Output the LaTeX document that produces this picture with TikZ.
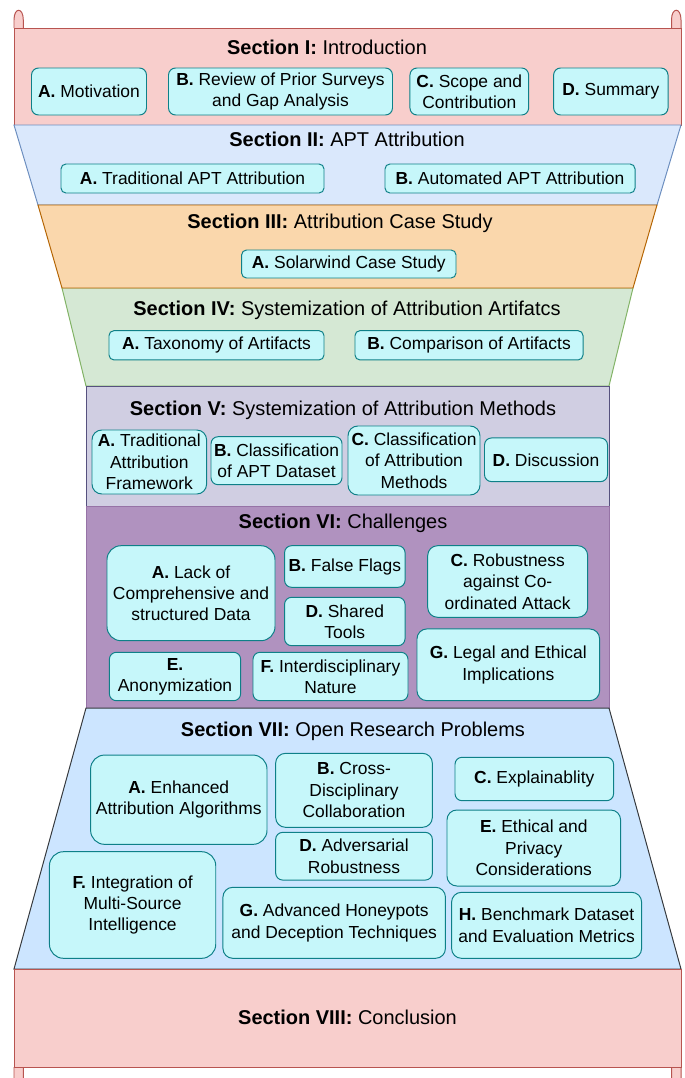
\documentclass[tikz,border=0pt]{standalone}
\usepackage{fontspec}
\setmainfont{Liberation Sans}
\usepackage{tikz}
\newlength{\pxlen}
\setlength{\pxlen}{0.025cm}

\definecolor{introfill}{HTML}{F8CECC}
\definecolor{introline}{HTML}{B85450}
\definecolor{aptfill}{HTML}{DAE8FC}
\definecolor{aptline}{HTML}{6C8EBF}
\definecolor{casefill}{HTML}{FAD7AC}
\definecolor{caseline}{HTML}{B46504}
\definecolor{artifill}{HTML}{D5E8D4}
\definecolor{artiline}{HTML}{82B366}
\definecolor{methfill}{HTML}{D0CEE2}
\definecolor{methline}{HTML}{56517E}
\definecolor{chalfill}{HTML}{B092BF}
\definecolor{challine}{HTML}{9673A6}
\definecolor{openfill}{HTML}{CCE5FF}
\definecolor{openline}{HTML}{36393D}
\definecolor{topicfill}{HTML}{C6F7FA}
\definecolor{topicline}{HTML}{0E8088}

\begin{document}
\begin{tikzpicture}[x=0.025cm, y=-0.025cm]
        \tikzstyle{band}=[line width=0.7pt]
        \tikzstyle{title}=[inner sep=0pt, anchor=base, font=\fontsize{14.2}{17}\selectfont]
        \tikzstyle{topic}=[draw=topicline, fill=topicfill, line width=0.7pt, rounded corners=5pt, inner sep=0pt, align=center, font=\fontsize{12.4}{15.2}\selectfont]
        \tikzstyle{flat}=[rounded corners=3.5pt]
        \tikzstyle{tall}=[rounded corners=7pt]
        \tikzstyle{big}=[rounded corners=10pt]
        \useasboundingbox (0,0) rectangle (684,1078);

        % scroll ends
        \draw [style=band, draw=introline, fill=introfill] (14,28) -- (14,20) .. controls (14,7) and (23.3,7) .. (23.3,20) -- (23.3,28);
        \draw [style=band, draw=introline, fill=introfill] (671.5,28) -- (671.5,20) .. controls (671.5,7) and (681,7) .. (681,20) -- (681,28);
        \draw [style=band, draw=introline, fill=introfill] (14,1067) -- (14,1080) .. controls (14,1093) and (23.3,1093) .. (23.3,1080) -- (23.3,1067);
        \draw [style=band, draw=introline, fill=introfill] (671.5,1067) -- (671.5,1080) .. controls (671.5,1093) and (681,1093) .. (681,1080) -- (681,1067);

        % bands
        \draw [style=band, draw=introline, fill=introfill] (14,28) rectangle (681,125);
        \draw [style=band, draw=aptline, fill=aptfill] (14,125) -- (681,125) -- (657,205) -- (38,205) -- cycle;
        \draw [style=band, draw=artiline, fill=artifill] (62,288) -- (633,288) -- (609,386) -- (86,386) -- cycle;
        \draw [style=band, draw=caseline, fill=casefill] (38,205) -- (657,205) -- (633,288) -- (62,288) -- cycle;
        \draw [style=band, draw=methline, fill=methfill] (86,386) rectangle (609,506);
        \draw [style=band, draw=challine, fill=chalfill] (86,506) rectangle (609,708);
        \draw [style=band, draw=openline, fill=openfill] (86,708) -- (609,708) -- (681,969) -- (14,969) -- cycle;
        \draw [style=band, draw=introline, fill=introfill] (14,969) rectangle (681,1067);

        % Section I
        \node [style=title] (sec1) at (327,54) {\textbf{Section I:} Introduction};
        \node [style=topic, minimum width=115\pxlen, minimum height=47\pxlen] (sec1a) at (89,91.5) {\textbf{A.} Motivation};
        \node [style=topic, minimum width=224\pxlen, minimum height=47\pxlen] (sec1b) at (280.5,91.5) {\textbf{B.} Review of Prior Surveys\\and Gap Analysis};
        \node [style=topic, minimum width=118.7\pxlen, minimum height=47\pxlen] (sec1c) at (469.3,91.5) {\textbf{C.} Scope and\\Contribution};
        \node [style=topic, minimum width=114.4\pxlen, minimum height=47\pxlen] (sec1d) at (610.8,91.5) {\textbf{D.} Summary};

        % Section II
        \node [style=title] (sec2) at (347,146.7) {\textbf{Section II:} APT Attribution};
        \node [style=topic, flat, minimum width=263\pxlen, minimum height=29\pxlen] (sec2a) at (192.5,178.5) {\textbf{A.} Traditional APT Attribution};
        \node [style=topic, flat, minimum width=250\pxlen, minimum height=29\pxlen] (sec2b) at (510,178.5) {\textbf{B.} Automated APT Attribution};

        % Section III
        \node [style=title] (sec3) at (340,228.3) {\textbf{Section III:} Attribution Case Study};
        \node [style=topic, flat, minimum width=214.4\pxlen, minimum height=28\pxlen] (sec3a) at (348.8,264) {\textbf{A.} Solarwind Case Study};

        % Section IV
        \node [style=title] (sec4) at (347,315.7) {\textbf{Section IV:} Systemization of Attribution Artifatcs};
        \node [style=topic, flat, minimum width=215\pxlen, minimum height=29.3\pxlen] (sec4a) at (216.5,345.3) {\textbf{A.} Taxonomy of Artifacts};
        \node [style=topic, flat, minimum width=228\pxlen, minimum height=29.3\pxlen] (sec4b) at (469,345.3) {\textbf{B.} Comparison of Artifacts};

        % Section V
        \node [style=title] (sec5) at (343,415) {\textbf{Section V:} Systemization of Attribution Methods};
        \node [style=topic, tall, minimum width=114.6\pxlen, minimum height=64\pxlen] (sec5a) at (149.3,462) {\textbf{A.} Traditional\\Attribution\\Framework};
        \node [style=topic, minimum width=131\pxlen, minimum height=48\pxlen] (sec5b) at (276.5,460.7) {\textbf{B.} Classification\\of APT Dataset};
        \node [style=topic, tall, minimum width=132\pxlen, minimum height=69\pxlen] (sec5c) at (414,460.5) {\textbf{C.} Classification\\of Attribution\\Methods};
        \node [style=topic, minimum width=123\pxlen, minimum height=43.7\pxlen] (sec5d) at (546,459.8) {\textbf{D.} Discussion};

        % Section VI
        \node [style=title] (sec6) at (343,528.3) {\textbf{Section VI:} Challenges};
        \node [style=topic, big, minimum width=168\pxlen, minimum height=95\pxlen] (sec6a) at (191,593.2) {\textbf{A.} Lack of\\Comprehensive and\\structured Data};
        \node [style=topic, minimum width=120.5\pxlen, minimum height=41.6\pxlen] (sec6b) at (344.8,566.5) {\textbf{B.} False Flags};
        \node [style=topic, tall, minimum width=160\pxlen, minimum height=71.6\pxlen] (sec6c) at (507.7,581.5) {\textbf{C.} Robustness\\against Co-\\ordinated Attack};
        \node [style=topic, minimum width=120.5\pxlen, minimum height=48.4\pxlen] (sec6d) at (344.8,621.5) {\textbf{D.} Shared\\Tools};
        \node [style=topic, minimum width=131.3\pxlen, minimum height=48.4\pxlen] (sec6e) at (175,676.5) {\textbf{E.}\\Anonymization};
        \node [style=topic, minimum width=155\pxlen, minimum height=48.4\pxlen] (sec6f) at (330.5,676.5) {\textbf{F.} Interdisciplinary\\Nature};
        \node [style=topic, tall, minimum width=182.6\pxlen, minimum height=71.7\pxlen] (sec6g) at (508.3,664.8) {\textbf{G.} Legal and Ethical\\Implications};

        % Section VII
        \node [style=title] (sec7) at (353,736.3) {\textbf{Section VII:} Open Research Problems};
        \node [style=topic, big, minimum width=176.4\pxlen, minimum height=89.3\pxlen] (sec7a) at (178.8,799.7) {\textbf{A.} Enhanced\\Attribution Algorithms};
        \node [style=topic, tall, minimum width=156.7\pxlen, minimum height=74\pxlen] (sec7b) at (354,790.3) {\textbf{B.} Cross-\\Disciplinary\\Collaboration};
        \node [style=topic, minimum width=158.6\pxlen, minimum height=43.4\pxlen] (sec7c) at (534.3,779) {\textbf{C.} Explainablity};
        \node [style=topic, minimum width=156.7\pxlen, minimum height=47.7\pxlen] (sec7d) at (354,856.2) {\textbf{D.} Adversarial\\Robustness};
        \node [style=topic, tall, minimum width=173.6\pxlen, minimum height=76\pxlen] (sec7e) at (533.8,848) {\textbf{E.} Ethical and\\Privacy\\Considerations};
        \node [style=topic, big, minimum width=166.3\pxlen, minimum height=106.6\pxlen] (sec7f) at (132.6,905) {\textbf{F.} Integration of\\Multi-Source\\Intelligence};
        \node [style=topic, tall, minimum width=222.5\pxlen, minimum height=71\pxlen] (sec7g) at (334.2,922.8) {\textbf{G.} Advanced Honeypots\\and Deception Techniques};
        \node [style=topic, tall, minimum width=190\pxlen, minimum height=66\pxlen] (sec7h) at (546.6,925.3) {\textbf{H.} Benchmark Dataset\\and Evaluation Metrics};

        % Section VIII
        \node [style=title] (sec8) at (347.5,1024) {\textbf{Section VIII:} Conclusion};
\end{tikzpicture}
\end{document}
